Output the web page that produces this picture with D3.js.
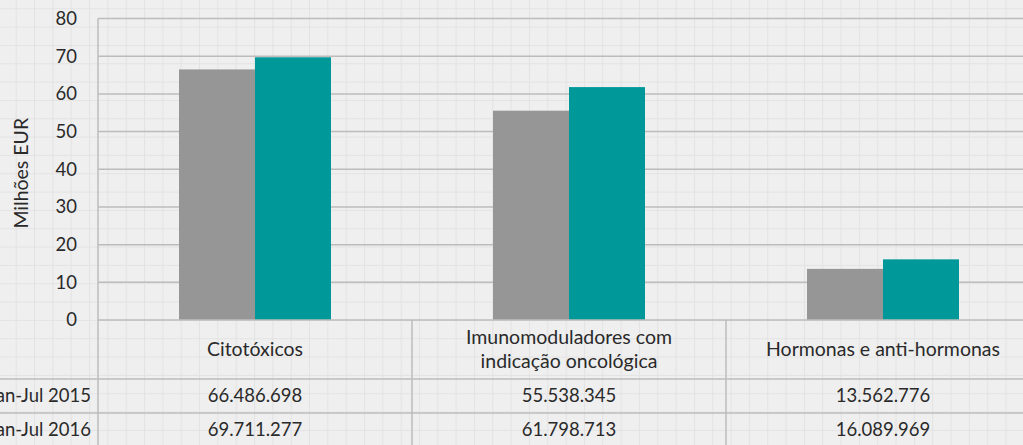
<!DOCTYPE html>
<html>
<head>
<meta charset="utf-8">
<script src="https://cdn.jsdelivr.net/npm/d3@7"></script>
<style>
  body { margin: 0; background: #efefef; }
  svg { display: block; font-family: Lato, sans-serif; }
</style>
</head>
<body>
<svg width="1023" height="445"></svg>
<script>
const categories = [['Citotóxicos'], ['Imunomoduladores com', 'indicação oncológica'], ['Hormonas e anti-hormonas']];
const seriesNames = ['Jan-Jul 2015', 'Jan-Jul 2016'];
const values2015 = [66.486698, 55.538345, 13.562776];
const values2016 = [69.711277, 61.798713, 16.089969];
const tableLabels2015 = ['66.486.698', '55.538.345', '13.562.776'];
const tableLabels2016 = ['69.711.277', '61.798.713', '16.089.969'];
const yTicks = [0, 10, 20, 30, 40, 50, 60, 70, 80];
const colors = ['#969696', '#009899'];

const svg = d3.select('svg');
const W = 1023, H = 445;

// background small-grid pattern
const defs = svg.append('defs');
const pat = defs.append('pattern')
  .attr('id', 'grid')
  .attr('patternUnits', 'userSpaceOnUse')
  .attr('width', 18.33).attr('height', 18.33)
  .attr('x', 15.7).attr('y', 8.3);
pat.append('rect').attr('width', 18.33).attr('height', 18.33).attr('fill', '#efefef');
pat.append('path')
  .attr('d', 'M0,0V18.33M0,0H18.33')
  .attr('stroke', '#e3e3e3').attr('stroke-width', 2).attr('fill', 'none');
svg.append('rect').attr('width', W).attr('height', H).attr('fill', 'url(#grid)');

const mLeft = 98, mTop = 18.5, base = 320;
const catNames = categories.map(d => d.join(' '));

const x = d3.scaleBand()
  .domain(catNames)
  .range([mLeft, mLeft + 3 * 314])
  .paddingInner(0.516)
  .paddingOuter(0.258);

const xs = d3.scaleBand()
  .domain(seriesNames)
  .range([0, x.bandwidth()]);

const y = d3.scaleLinear()
  .domain([0, 80])
  .range([base, mTop]);

// gridlines
svg.append('g')
  .selectAll('line')
  .data(yTicks.slice(1))
  .join('line')
  .attr('x1', mLeft).attr('x2', W)
  .attr('y1', d => y(d)).attr('y2', d => y(d))
  .attr('stroke', '#bcbcbc').attr('stroke-width', 1.5);

// y axis
const yAxis = svg.append('g')
  .attr('transform', `translate(${mLeft},0)`)
  .call(d3.axisLeft(y).tickValues(yTicks).tickSize(0).tickPadding(21));
yAxis.select('.domain').remove();
yAxis.selectAll('text')
  .attr('fill', '#2a2a2a')
  .style('font-size', '18.5px')
  .style('font-family', 'Lato, sans-serif');

svg.append('text')
  .attr('transform', `translate(28,${(mTop + base) / 2 + 4}) rotate(-90)`)
  .attr('text-anchor', 'middle')
  .attr('fill', '#2a2a2a')
  .style('font-size', '19.5px')
  .text('Milhões EUR');

// bars
const data = catNames.map((c, i) => ({ cat: c, vals: [values2015[i], values2016[i]] }));
svg.append('g')
  .selectAll('g')
  .data(data)
  .join('g')
  .attr('transform', d => `translate(${x(d.cat)},0)`)
  .selectAll('rect')
  .data(d => d.vals.map((v, j) => ({ s: seriesNames[j], v, j })))
  .join('rect')
  .attr('x', d => xs(d.s))
  .attr('width', xs.bandwidth())
  .attr('y', d => y(d.v))
  .attr('height', d => y(0) - y(d.v))
  .attr('fill', d => colors[d.j]);

// data table
const step = x.step();
const catLeft = i => mLeft + i * step;
const row1 = 379, row2 = 413;
const tbl = svg.append('g').attr('stroke', '#bcbcbc').attr('stroke-width', 1.5);
tbl.append('line').attr('x1', mLeft).attr('x2', W).attr('y1', base).attr('y2', base);
tbl.append('line').attr('x1', 0).attr('x2', W).attr('y1', row1).attr('y2', row1);
tbl.append('line').attr('x1', 0).attr('x2', W).attr('y1', row2).attr('y2', row2);
tbl.append('line').attr('x1', mLeft).attr('x2', mLeft).attr('y1', mTop).attr('y2', H);
[1, 2].forEach(i => {
  tbl.append('line').attr('x1', catLeft(i)).attr('x2', catLeft(i)).attr('y1', base).attr('y2', H);
});

const txt = svg.append('g')
  .attr('fill', '#2a2a2a')
  .attr('text-anchor', 'middle')
  .style('font-size', '18.5px');

categories.forEach((lines, i) => {
  const cx = x(catNames[i]) + x.bandwidth() / 2;
  const mid = (base + row1) / 2;
  lines.forEach((l, k) => {
    txt.append('text')
      .attr('x', cx)
      .attr('y', mid + (k - (lines.length - 1) / 2) * 24)
      .attr('dy', '0.35em')
      .style('font-size', '19.5px')
      .text(l);
  });
  txt.append('text').attr('x', cx).attr('y', (row1 + row2) / 2).attr('dy', '0.35em').text(tableLabels2015[i]);
  txt.append('text').attr('x', cx).attr('y', row2 + 17).attr('dy', '0.35em').text(tableLabels2016[i]);
});

txt.append('text').attr('x', 91).attr('y', (row1 + row2) / 2).attr('dy', '0.35em')
  .attr('text-anchor', 'end').text(seriesNames[0]);
txt.append('text').attr('x', 91).attr('y', row2 + 17).attr('dy', '0.35em')
  .attr('text-anchor', 'end').text(seriesNames[1]);
</script>
</body>
</html>
